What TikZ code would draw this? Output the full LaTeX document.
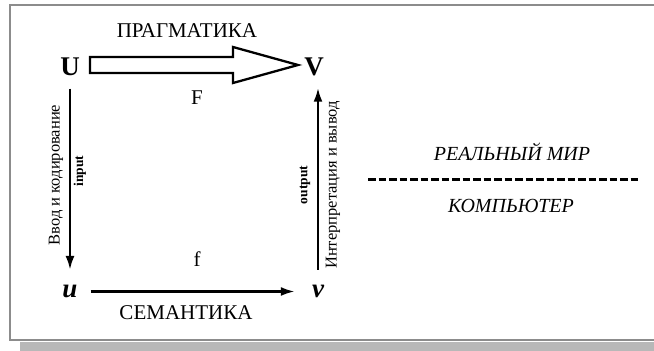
\documentclass[tikz,border=0pt]{standalone}
\usepackage{fontspec}
\setmainfont{Liberation Serif}
\usetikzlibrary{arrows.meta}

\tikzset{
  seta/.style={line width=2.5pt, -{Latex[length=14pt,width=9pt]}},
  letra/.style={inner sep=0pt, font=\fontsize{27}{31}\selectfont\bfseries},
  titulo/.style={inner sep=0pt, font=\fontsize{21}{25}\selectfont},
  lateral/.style={inner sep=0pt, rotate=90, font=\fontsize{16.5}{20}\selectfont},
  miudo/.style={inner sep=0pt, rotate=90, font=\fontsize{13.5}{16}\selectfont\bfseries},
  mundo/.style={inner sep=0pt, font=\fontsize{20}{24}\selectfont\itshape}
}

\begin{document}
\begin{tikzpicture}[x=1pt,y=1pt]
    \useasboundingbox (0,0) rectangle (654,351);

    % Moldura e sombra
    \fill[black!28] (20,0) rectangle (654,9);
    \draw[black!45, line width=2pt] (654,345.5) -- (9.5,345.5) -- (9.5,11) -- (654,11);

    % Vertices do quadrado
    \node[letra] (U) at (70,284.5) {U};
    \node[letra] (V) at (314,284.5) {V};
    \node[letra] (u) at (70,59.5) {\itshape u};
    \node[letra] (v) at (318,59.5) {\itshape v};

    % Seta larga (pragmatica)
    \draw[line width=2.3pt, fill=white] (90,294) -- (233,294) -- (233,304) -- (298,286)
        -- (233,268) -- (233,278) -- (90,278) -- cycle;
    \node[titulo] (prag) at (187,320) {ПРАГМАТИКА};
    \node[titulo] (F) at (197,253.5) {F};

    % Setas simples
    \draw[seta, shorten <=13pt, shorten >=15pt] (U.south) -- (U.south |- u.north);
    \draw[seta, shorten <=15pt, shorten >=12pt] (v.north) -- (v.north |- V.south);
    \draw[seta, shorten <=13pt, shorten >=17pt] (u) -- (v);
    \node[titulo] (f) at (197,92) {f};
    \node[titulo] (sem) at (186,38) {СЕМАНТИКА};

    % Rotulos verticais
    \node[lateral] (entrada) at (56,176) {Ввод и кодирование};
    \node[miudo] (input) at (80,180) {input};
    \node[miudo] (output) at (305,166) {output};
    \node[lateral] (saida) at (333,166) {Интерпретация и вывод};

    % Divisao mundo real / computador
    \node[mundo] (real) at (512,199) {РЕАЛЬНЫЙ МИР};
    \draw[line width=3pt, dash pattern=on 7.5pt off 3pt] (368,171) -- (640,171);
    \node[mundo] (comp) at (511,145) {КОМПЬЮТЕР};
\end{tikzpicture}
\end{document}
